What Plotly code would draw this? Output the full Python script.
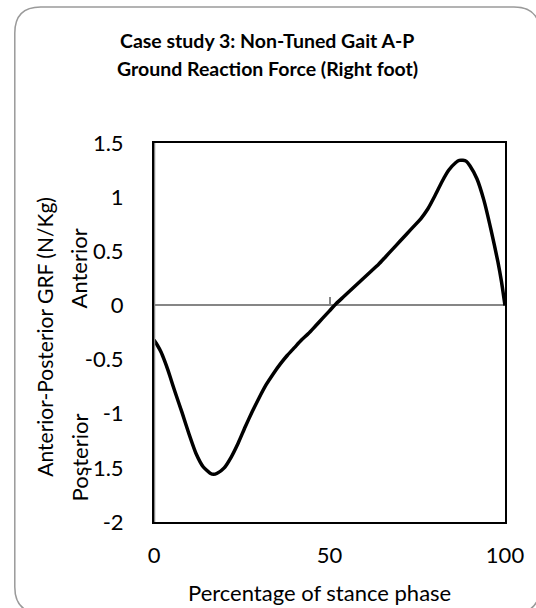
import plotly.graph_objects as go

# ---- data ----
stance_pct = [0, 1, 2, 3, 4, 5, 6, 8, 10, 12, 14, 16, 17, 18, 20, 22, 24, 26, 28, 30, 32,
              34, 36, 38, 40, 42, 44, 46, 48, 50, 52, 54, 56, 58, 60, 62, 64, 66, 68, 70,
              72, 74, 76, 78, 80, 82, 84, 86, 87, 88, 89, 90, 92, 94, 96, 98, 99, 100]
ap_grf = [-0.32, -0.37, -0.43, -0.51, -0.60, -0.70, -0.80, -0.99, -1.19, -1.37, -1.49,
          -1.55, -1.56, -1.55, -1.50, -1.40, -1.27, -1.12, -0.98, -0.85, -0.73, -0.63,
          -0.54, -0.46, -0.39, -0.32, -0.26, -0.19, -0.12, -0.05, 0.02, 0.08, 0.14, 0.20,
          0.26, 0.32, 0.38, 0.45, 0.52, 0.59, 0.66, 0.73, 0.80, 0.89, 1.01, 1.14, 1.25,
          1.32, 1.34, 1.34, 1.33, 1.29, 1.17, 0.97, 0.70, 0.40, 0.22, 0.0]
x_ticks = [0, 50, 100]
y_ticks = [-2, -1.5, -1, -0.5, 0, 0.5, 1, 1.5]
y_tick_text = ["-2", "-1.5", "-1", "-0.5", "0", "0.5", "1", "1.5"]

title_line1 = "Case study 3: Non-Tuned Gait A-P"
title_line2 = "Ground Reaction Force (Right foot)"
x_title = "Percentage of stance phase"
y_title = "Anterior-Posterior GRF (N/Kg)"
y_note_top = "Anterior"
y_note_bottom = "Posterior"

# ---- layout geometry (pixels) ----
W, H = 536, 608
L, R, T, B = 154, 507, 143, 522
YMIN, YMAX = -2, 1.5


def px(xp):
    return (xp - L) / (R - L)


def py(yp):
    return (B - yp) / (B - T)


FONT = "Lato"

fig = go.Figure()
fig.add_trace(go.Scatter(
    x=stance_pct, y=ap_grf, mode="lines",
    line=dict(color="black", width=3.5, shape="spline", smoothing=0.5),
    showlegend=False, hoverinfo="skip",
))
# invisible helper so the zero-crossing tick axis is drawn
fig.add_trace(go.Scatter(x=[x_ticks[0]], y=[0], xaxis="x2", mode="markers",
                         marker=dict(opacity=0), showlegend=False, hoverinfo="skip"))

# rounded chart-area border
x0, x1, y0, y1, r = 14, 542, 7, 613, 26
path = (
    f"M {px(x0 + r)} {py(y0)} L {px(x1 - r)} {py(y0)} "
    f"Q {px(x1)} {py(y0)} {px(x1)} {py(y0 + r)} "
    f"L {px(x1)} {py(y1 - r)} Q {px(x1)} {py(y1)} {px(x1 - r)} {py(y1)} "
    f"L {px(x0 + r)} {py(y1)} Q {px(x0)} {py(y1)} {px(x0)} {py(y1 - r)} "
    f"L {px(x0)} {py(y0 + r)} Q {px(x0)} {py(y0)} {px(x0 + r)} {py(y0)} Z"
)
shapes = [
    dict(type="path", path=path, xref="paper", yref="paper",
         line=dict(color="#9a9a9a", width=1.5), layer="below"),
    dict(type="line", xref="x", yref="y domain", x0=0, x1=0, y0=0, y1=1,
         line=dict(color="#868686", width=2.5), layer="above"),
]


def ann(text, x, y, size, angle=0, bold=False):
    return dict(text=("<b>%s</b>" % text) if bold else text, x=px(x), y=py(y),
                xref="paper", yref="paper", textangle=angle, showarrow=False,
                font=dict(family=FONT, size=size, color="black"),
                xanchor="center", yanchor="middle")


annotations = [
    ann(title_line1, W / 2, 40, 19.5, bold=True),
    ann(title_line2, W / 2, 69, 19.5, bold=True),
    ann(y_title, 43, 337, 21, angle=-90),
    ann(y_note_top, 78, 268, 22, angle=-90),
    ann(y_note_bottom, 79, 457, 22, angle=-90),
    ann(x_title, 320, 592, 22),
]

fig.update_layout(
    width=W, height=H,
    margin=dict(l=L, r=W - R, t=T, b=H - B, pad=0),
    paper_bgcolor="white", plot_bgcolor="white",
    shapes=shapes, annotations=annotations,
    xaxis=dict(range=[0, 100], tickvals=x_ticks, ticktext=[str(v) for v in x_ticks],
               showgrid=False, zeroline=False, showline=True, mirror=True,
               linecolor="black", linewidth=2, ticks="",
               tickfont=dict(family=FONT, size=22, color="black"),
               ticklabelstandoff=13),
    xaxis2=dict(range=[0, 100], overlaying="x", anchor="free",
                position=(0 - YMIN) / (YMAX - YMIN), side="bottom",
                tickvals=x_ticks, ticks="inside", ticklen=8, tickwidth=1.5,
                tickcolor="#868686", showticklabels=False, showline=False,
                showgrid=False, zeroline=False),
    yaxis=dict(range=[YMIN, YMAX], tickvals=y_ticks, ticktext=y_tick_text,
               showgrid=False, zeroline=True, zerolinecolor="#868686", zerolinewidth=1.5,
               showline=True, mirror=True, linecolor="black", linewidth=2, ticks="",
               tickfont=dict(family=FONT, size=22, color="black"),
               ticklabelstandoff=24),
)

fig.write_html("out.html", config={"displayModeBar": False},
               post_script="document.body.style.margin='0';")
